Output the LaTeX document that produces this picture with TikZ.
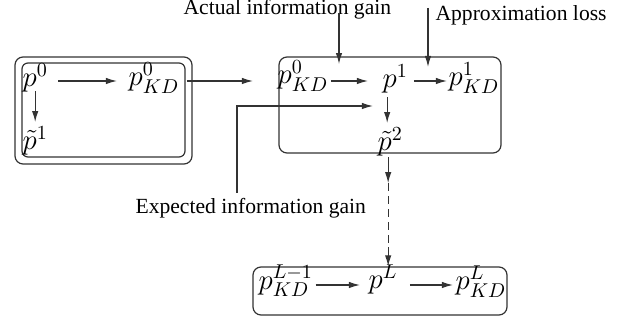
\documentclass[tikz,border=0pt]{standalone}
\usepackage{fontspec}
\setmainfont{Liberation Serif}
\usetikzlibrary{arrows.meta,calc}

\begin{document}
\begin{tikzpicture}[x=0.5pt,y=-0.5pt,
  line width=0.6pt, draw=black!80,
  arr/.style={-{Latex[length=5.5pt,width=3.2pt]}},
  mnode/.style={inner sep=0pt, anchor=base west, font=\fontsize{14.4}{17}\selectfont},
  lbl/.style={inner sep=0pt, anchor=base west, font=\fontsize{10.8}{13}\selectfont},
  box/.style={draw, rounded corners=4pt, inner sep=0pt},
]
\useasboundingbox (0,0) rectangle (634,320);

% containers
\node[box, minimum width=88.5pt, minimum height=53.5pt] (boxAo) at (103.5,110.5) {};
\node[box, rounded corners=3pt, minimum width=81.5pt, minimum height=47pt] (boxAi) at (103.5,110) {};
\node[box, minimum width=111pt, minimum height=48pt] (boxB) at (390,105) {};
\node[box, minimum width=127pt, minimum height=24pt] (boxC) at (380,291) {};

% distributions
\node[mnode] (a0)   at (22,87)   {$p^0$};
\node[mnode] (a0kd) at (128,86)  {$p^0_{KD}$};
\node[mnode] (a1t)  at (22,150)  {$\tilde p^1$};
\node[mnode] (b0kd) at (277,84)  {$p^0_{KD}$};
\node[mnode] (b1)   at (382,88)  {$p^1$};
\node[mnode] (b1kd) at (448,86)  {$p^1_{KD}$};
\node[mnode] (b2t)  at (377,151) {$\tilde p^2$};
\node[mnode] (cLm)  at (258,290) {$p^{L-1}_{KD}$};
\node[mnode] (cL)   at (368,289) {$p^L$};
\node[mnode] (cLkd) at (455,290) {$p^L_{KD}$};

% annotations
\node[lbl] (actual)   at (183,15)  {Actual information gain};
\node[lbl] (approx)   at (435,21)  {Approximation loss};
\node[lbl] (expected) at (135,214) {Expected information gain};

% arrow rows
\coordinate (rowT) at (0,81);
\coordinate (rowB) at (0,285);

% first block
\draw[arr, shorten <=5pt, shorten >=5.5pt] (a0.east |- rowT) -- (a0kd.west |- rowT);
\draw[arr, shorten <=-1pt, shorten >=2pt] (a0.south) -- (a0.south |- a1t.north);
\draw[arr, shorten <=3.5pt, shorten >=12pt] (a0kd.east |- rowT) -- (b0kd.west |- rowT);

% second block
\draw[arr, shorten <=1pt, shorten >=7pt] (b0kd.east |- rowT) -- (b1.west |- rowT);
\draw[arr, shorten <=2.75pt, shorten >=0.5pt] (b1.east |- rowT) -- (b1kd.west |- rowT);
\draw[arr, shorten <=1.5pt, shorten >=2pt] ([xshift=-1.5pt]b2t.north |- b1.south) -- ([xshift=-1.5pt]b2t.north);

% annotation leaders
\coordinate (gA) at (339,13);
\coordinate (gL) at (428,8);
\coordinate (gE) at (237,193);
\coordinate (gEend) at (373,106);
\draw[arr] (gA) -- (gA |- b0kd.north) -- ++(0,4);
\draw[arr] (gL) -- ++(0,59);
\draw[arr] (gE) |- (gEend);

% towards the last block
\draw[arr] ([xshift=-1pt]b2t.south) -- ++(0,26) coordinate (d1);
\draw[dashed, dash pattern=on 4pt off 2.5pt] (d1) -- ++(0,64) coordinate (d2);
\draw[arr] (d2) -- (d2 |- boxC.north);

% last block
\draw[arr, shorten <=1pt, shorten >=4pt] (cLm.east |- rowB) -- (cL.west |- rowB);
\draw[arr, shorten <=6pt, shorten >=1pt] (cL.east |- rowB) -- (cLkd.west |- rowB);
\end{tikzpicture}
\end{document}
